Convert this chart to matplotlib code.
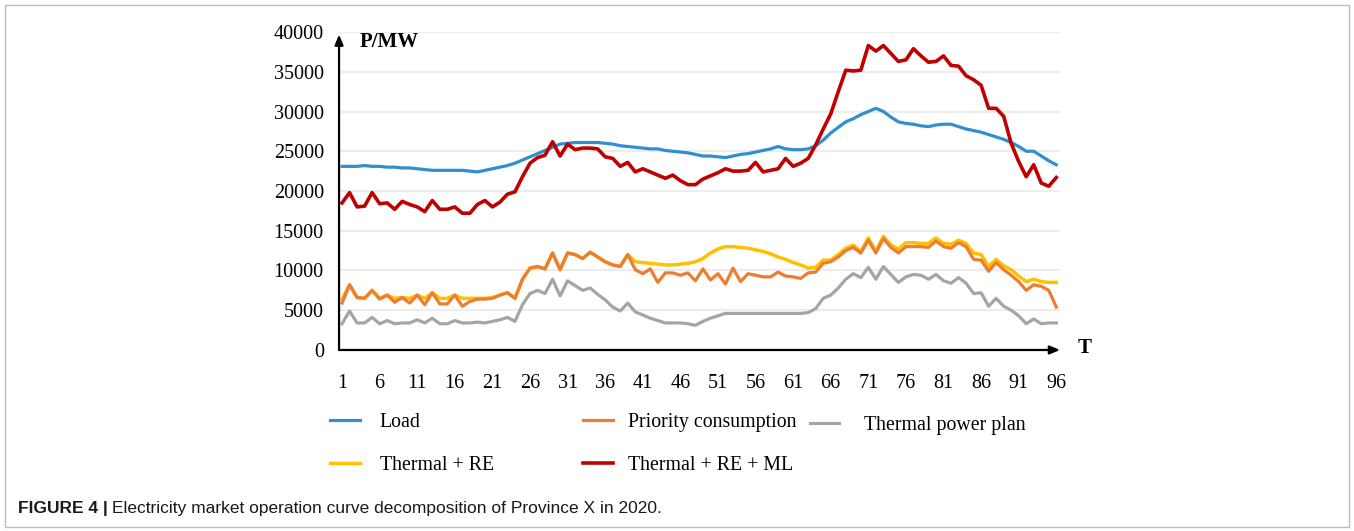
import numpy as np
import matplotlib
matplotlib.use('Agg')
import matplotlib.pyplot as plt
from matplotlib.patches import Rectangle

# ---------------- data ----------------
T = np.arange(1, 97)
tick_T = list(range(1, 97, 5))

load = [23100, 23100, 23100, 23200, 23100, 23100, 23000, 23000, 22900, 22900,
        22800, 22700, 22600, 22600, 22600, 22600, 22600, 22500, 22400, 22600,
        22800, 23000, 23200, 23500, 23900, 24300, 24700, 25100, 25500, 25900,
        26000, 26100, 26100, 26100, 26100, 26000, 25900, 25700, 25600, 25500,
        25400, 25300, 25300, 25100, 25000, 24900, 24800, 24600, 24400, 24400,
        24300, 24200, 24400, 24600, 24700, 24900, 25100, 25300, 25600, 25300,
        25200, 25200, 25300, 25700, 26400, 27300, 28000, 28700, 29100, 29600,
        30000, 30400, 30000, 29300, 28700, 28500, 28400, 28200, 28100, 28300,
        28400, 28400, 28100, 27800, 27600, 27400, 27100, 26800, 26500, 26100,
        25600, 25000, 25000, 24400, 23800, 23300]

priority = [5900, 8200, 6600, 6500, 7500, 6400, 6900, 6000, 6600, 5900,
            6900, 5700, 7200, 5800, 5800, 6900, 5500, 6100, 6400, 6400,
            6500, 6900, 7200, 6500, 8900, 10300, 10500, 10200, 12200, 10100,
            12200, 12000, 11500, 12300, 11700, 11100, 10700, 10500, 12000, 10100,
            9600, 10200, 8500, 9700, 9700, 9400, 9700, 8700, 10200, 8800,
            9600, 8300, 10300, 8600, 9600, 9400, 9200, 9200, 9800, 9300,
            9200, 9000, 9700, 9800, 10900, 11100, 11700, 12500, 12900, 12200,
            13800, 12200, 14000, 12900, 12200, 13000, 13000, 13000, 12900, 13700,
            13000, 12800, 13500, 13000, 11400, 11300, 9900, 11000, 10100, 9400,
            8600, 7500, 8200, 8000, 7500, 5400]

thermal_plan = [3300, 4900, 3400, 3400, 4100, 3300, 3700, 3300, 3400, 3400,
                3800, 3400, 4000, 3300, 3300, 3700, 3400, 3400, 3500, 3400,
                3600, 3800, 4100, 3600, 5700, 7100, 7500, 7100, 8900, 6800,
                8700, 8100, 7500, 7800, 7000, 6300, 5400, 4900, 5900, 4800,
                4400, 4000, 3700, 3400, 3400, 3400, 3300, 3100, 3600, 4000,
                4300, 4600, 4600, 4600, 4600, 4600, 4600, 4600, 4600, 4600,
                4600, 4600, 4700, 5200, 6500, 6900, 7800, 8900, 9600, 9100,
                10400, 8900, 10500, 9500, 8500, 9200, 9500, 9400, 8900, 9500,
                8700, 8400, 9100, 8400, 7100, 7200, 5500, 6500, 5500, 5000,
                4300, 3300, 3900, 3300, 3400, 3400]

thermal_re = [6400, 8200, 6600, 6500, 7500, 6500, 6900, 6500, 6600, 6500,
              6900, 6500, 7200, 6500, 6500, 6900, 6500, 6500, 6500, 6500,
              6600, 6900, 7200, 6500, 8900, 10300, 10500, 10200, 12200, 10100,
              12200, 12000, 11500, 12300, 11700, 11100, 10700, 10500, 12000, 11100,
              11000, 10900, 10800, 10700, 10700, 10800, 10900, 11100, 11500, 12200,
              12700, 13000, 13000, 12900, 12800, 12600, 12400, 12100, 11700, 11400,
              11000, 10700, 10300, 10400, 11300, 11300, 12000, 12800, 13200, 12400,
              14100, 12400, 14300, 13200, 12700, 13500, 13500, 13400, 13400, 14100,
              13400, 13300, 13800, 13400, 12200, 12000, 10500, 11400, 10600, 10100,
              9300, 8600, 8900, 8600, 8500, 8500]

thermal_re_ml = [18500, 19800, 18000, 18100, 19800, 18400, 18500, 17700, 18700, 18300,
                 18000, 17400, 18800, 17700, 17700, 18000, 17200, 17200, 18300, 18800,
                 18000, 18600, 19600, 19900, 21800, 23500, 24200, 24500, 26200, 24400,
                 25900, 25200, 25400, 25400, 25300, 24300, 24100, 23100, 23600, 22400,
                 22800, 22400, 22000, 21600, 22000, 21300, 20800, 20800, 21500, 21900,
                 22300, 22800, 22500, 22500, 22600, 23600, 22400, 22600, 22800, 24100,
                 23100, 23500, 24100, 25800, 27800, 29700, 32500, 35200, 35100, 35200,
                 38300, 37600, 38300, 37300, 36300, 36500, 37900, 37000, 36200, 36300,
                 37000, 35800, 35700, 34500, 34000, 33300, 30400, 30400, 29400, 26000,
                 23700, 21800, 23300, 21000, 20600, 21700]

# ---------------- style ----------------
SERIF = ['Liberation Serif', 'DejaVu Serif']
SANS = ['Liberation Sans', 'DejaVu Sans']

C_LOAD = '#2F8FCF'
C_PRIO = '#ED7D31'
C_PLAN = '#A5A5A5'
C_RE = '#FFC000'
C_ML = '#C00000'

fig = plt.figure(figsize=(13.54, 5.31), dpi=100)

# thin frame around the whole figure
fig.patches.append(Rectangle((5 / 1354, 4 / 531), 1344 / 1354, 522 / 531,
                             transform=fig.transFigure, fill=False,
                             edgecolor='#BDBDBD', linewidth=1.0))

ax = fig.add_axes([0.2504, 0.3409, 0.5325, 0.5988])

ln_plan, = ax.plot(T, thermal_plan, color=C_PLAN, lw=2.3, label='Thermal power plan')
ln_re, = ax.plot(T, thermal_re, color=C_RE, lw=2.5, label='Thermal + RE')
ln_prio, = ax.plot(T, priority, color=C_PRIO, lw=2.3, label='Priority consumption')
ln_load, = ax.plot(T, load, color=C_LOAD, lw=2.3, label='Load')
ln_ml, = ax.plot(T, thermal_re_ml, color=C_ML, lw=2.6, label='Thermal + RE + ML')

ax.set_xlim(0.6, 96.5)
ax.set_ylim(0, 40000)
ax.set_yticks(np.arange(0, 40001, 5000))
ax.set_xticks(tick_T)
ax.set_xticklabels([str(t) for t in tick_T])

ax.yaxis.grid(True, color='#EDEDED', linewidth=1.6)
ax.set_axisbelow(True)
for s in ax.spines.values():
    s.set_visible(False)
ax.tick_params(axis='both', length=0, labelsize=14.5)
ax.tick_params(axis='y', pad=11)
ax.tick_params(axis='x', pad=17)
for lab in ax.get_xticklabels() + ax.get_yticklabels():
    lab.set_family(SERIF)

# axis arrows
arrow = dict(arrowstyle='-|>,head_length=0.6,head_width=0.25', color='black', lw=1.6,
             shrinkA=0, shrinkB=0)
ax.annotate('', xy=(1.0, 0), xytext=(0, 0), xycoords='axes fraction',
            textcoords='axes fraction', arrowprops=arrow, annotation_clip=False)
ax.annotate('', xy=(0, 0.992), xytext=(0, 0), xycoords='axes fraction',
            textcoords='axes fraction', arrowprops=arrow, annotation_clip=False)

ax.text(0.029, 0.97, 'P/MW', transform=ax.transAxes, ha='left', va='center',
        fontsize=15, fontweight='bold', family=SERIF)
ax.text(1.025, 0.005, 'T', transform=ax.transAxes, ha='left', va='center',
        fontsize=15, fontweight='bold', family=SERIF)

# legend in three blocks
leg_kw = dict(frameon=False, prop={'family': SERIF, 'size': 14.3}, handlelength=1.5,
              handletextpad=1.0, labelspacing=1.25, borderpad=0, borderaxespad=0,
              loc='center left')
fig.legend(handles=[ln_load, ln_re], bbox_to_anchor=(0.2437, 0.164), **leg_kw)
leg_kw['handletextpad'] = 0.75
fig.legend(handles=[ln_prio, ln_ml], bbox_to_anchor=(0.4306, 0.164), **leg_kw)
leg_kw['handletextpad'] = 1.25
fig.legend(handles=[ln_plan], bbox_to_anchor=(0.598, 0.1996), **leg_kw)

# caption
fig.canvas.draw()
cap1 = fig.text(18 / 1354, 0.0433, 'FIGURE 4 |', ha='left', va='center',
                fontsize=12.5, fontweight='bold', family=SANS, color='#1a1a1a')
fig.canvas.draw()
bb = cap1.get_window_extent()
fig.text((bb.x1 + 4) / 1354, 0.0433,
         'Electricity market operation curve decomposition of Province X in 2020.',
         ha='left', va='center', fontsize=12.5, family=SANS, color='#1a1a1a')

fig.savefig('out.png', dpi=100)
